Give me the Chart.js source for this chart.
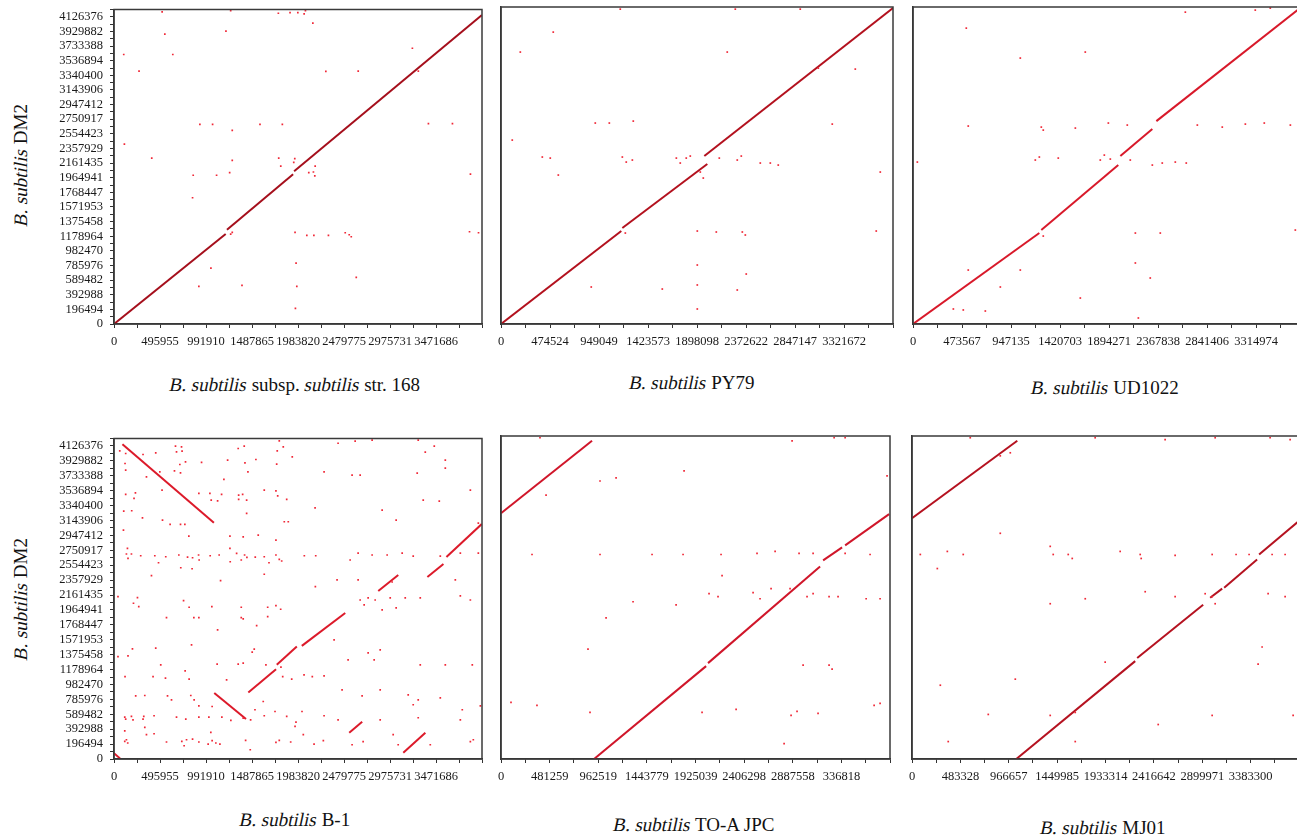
<!DOCTYPE html>
<html>
<head>
<meta charset="utf-8">
<script src="https://cdn.jsdelivr.net/npm/chart.js@4.4.1/dist/chart.umd.min.js"></script>
<style>
html, body { margin: 0; padding: 0; background: #fff; overflow: hidden; width: 1297px; height: 837px; }
body { position: relative; font-family: 'Liberation Serif', 'DejaVu Serif', serif; color: #111; }
canvas { position: absolute; }
.cap { position: absolute; font-size: 19px; white-space: nowrap; transform: translate(-50%, -50%); }
.ytitle { position: absolute; font-size: 19px; white-space: nowrap; transform: translate(-50%, -50%) rotate(-90deg); }
/* serif italic face is not installed, so slant the regular one */
.it { display: inline-block; font-style: normal; transform: skewX(-12deg); }
</style>
</head>
<body>
<div class="ytitle" style="left:21px;top:165px"><span class="it">B. subtilis</span> DM2</div>
<div class="ytitle" style="left:21px;top:599px"><span class="it">B. subtilis</span> DM2</div>
<div class="cap" style="left:295px;top:385px"><span class="it">B. subtilis</span> subsp. <span class="it">subtilis</span> str. 168</div>
<div class="cap" style="left:692px;top:383px"><span class="it">B. subtilis</span> PY79</div>
<div class="cap" style="left:1105px;top:388px"><span class="it">B. subtilis</span> UD1022</div>
<div class="cap" style="left:295px;top:820px"><span class="it">B. subtilis</span> B-1</div>
<div class="cap" style="left:694px;top:825px"><span class="it">B. subtilis</span> TO-A JPC</div>
<div class="cap" style="left:1103px;top:828px"><span class="it">B. subtilis</span> MJ01</div>
<script>
// tick labels (bp)
const yTickLabels = ['0','196494','392988','589482','785976','982470','1178964','1375458','1571953','1768447',
    '1964941','2161435','2357929','2554423','2750917','2947412','3143906','3340400','3536894','3733388','3929882','4126376'];
const p1XTicks = ['0','495955','991910','1487865','1983820','2479775','2975731','3471686'];
const p2XTicks = ['0','474524','949049','1423573','1898098','2372622','2847147','3321672'];
const p3XTicks = ['0','473567','947135','1420703','1894271','2367838','2841406','3314974'];
const p4XTicks = ['0','495955','991910','1487865','1983820','2479775','2975731','3471686'];
const p5XTicks = ['0','481259','962519','1443779','1925039','2406298','2887558','336818'];
const p6XTicks = ['0','483328','966657','1449985','1933314','2416642','2899971','3383300'];

// alignment segments [x1, y1, x2, y2] in kb
const p1Segments = [[0,0,1204,1208],[1218,1266,1931,2012],[1942,2052,3967,4150]];
const p2Segments = [[0,0,1165,1239],[1175,1279,1998,2132],[1969,2238,3796,4210]];
const p3Segments = [[0,0,1221,1212],[1240,1252,1984,2118],[2004,2238,2313,2598],[2352,2704,3745,4215]];
const p4Segments = [[0,75,65,8],[91,4150,1077,3114],[1081,869,1423,526],[1448,877,1747,1184],[1755,1241,1971,1482],
    [2025,1491,2493,1925],[2849,2215,3065,2426],[3379,2399,3552,2570],[3584,2662,3965,3097],[2536,346,2676,491],[3119,83,3357,346]];
const p5Segments = [[0,3215,901,4162],[921,0,2030,1215],[2049,1254,3158,2518],[3188,2597,3376,2768],[3406,2794,3841,3202]];
const p6Segments = [[0,3149,1052,4162],[1042,0,2230,1280],[2250,1320,2909,2017],[2979,2110,3099,2228],[3119,2241,3448,2610],[3468,2675,3868,3115]];

// scattered matches [x, y] in kb
const p1Dots = [[519,4192],[548,3894],[105,3620],[634,3620],[270,3397],[1207,3934],[1258,4210],[1772,4174],[1898,4183],[1982,4183],
    [2050,4166],[2064,4210],[2144,4041],[2284,3393],[926,2682],[1063,2682],[1275,2602],[1574,2682],[1815,2682],[112,2415],
    [407,2229],[1275,2198],[854,1998],[1106,1998],[1247,2034],[847,1696],[1776,2229],[1798,2122],[1949,2221],[1938,2171],
    [2100,2034],[2150,2042],[2165,1989],[2169,2122],[1952,1230],[2079,1190],[2155,1190],[2312,1190],[1258,1208],[1275,1230],
    [1963,817],[1045,750],[915,506],[1380,520],[1971,506],[1956,209],[2493,1226],[2536,1199],[2558,1172],[3833,1239],
    [3930,1226],[2612,626],[2633,3397],[3281,3397],[3390,2691],[3843,2012],[3217,3704],[3649,2691]];
const p2Dots = [[187,3624],[506,3890],[1155,4196],[2269,4196],[2898,4196],[2191,3624],[3073,3410],[3431,3397],[913,2678],[1049,2678],
    [1281,2704],[3208,2664],[400,2225],[477,2211],[555,1985],[1175,2225],[1213,2158],[1272,2185],[1698,2211],[1736,2145],
    [1794,2211],[1833,2238],[1930,2025],[1959,1945],[2114,2211],[2288,2185],[2327,2238],[2511,2145],[2608,2145],[2685,2118],
    [3673,2025],[1204,1212],[1901,1239],[2085,1226],[2337,1226],[2366,1186],[3634,1239],[1901,786],[1901,520],[2288,453],
    [874,493],[1562,466],[1901,200],[2375,666],[109,2451]];
const p3Dots = [[515,3943],[1037,3544],[1665,3624],[2632,4156],[3308,4183],[3453,4210],[534,2638],[1240,2624],[1259,2584],[1569,2611],
    [1888,2678],[2071,2651],[2748,2651],[2989,2624],[3212,2664],[3395,2678],[3647,2651],[42,2158],[1182,2185],[1221,2225],
    [1404,2211],[1810,2185],[1849,2251],[1907,2198],[2100,2185],[2313,2118],[2409,2145],[2535,2158],[2641,2145],[1259,1172],
    [2149,1212],[2390,1212],[3695,1252],[534,719],[844,493],[2149,813],[2293,613],[390,200],[486,187],[699,173],
    [1617,346],[2178,80],[1037,719]];
const p4Dots = [[62,4061],[126,4027],[119,3895],[313,4014],[450,4035],[663,4123],[728,4114],[734,4057],[674,4048],[710,3882],
    [771,3916],[944,3909],[1225,3939],[1339,4093],[1404,4123],[1412,3903],[1530,3948],[1782,4193],[1760,4061],[1825,4114],
    [1922,3982],[1754,3886],[126,3807],[350,3719],[494,3785],[652,3798],[717,3772],[1185,3685],[1444,3785],[2265,3785],
    [518,3544],[126,3487],[231,3508],[216,3435],[915,3501],[1034,3501],[1048,3412],[1160,3487],[1117,3403],[1344,3478],
    [1344,3422],[1387,3487],[1430,3412],[1620,3544],[1746,3535],[1765,3469],[1862,3422],[105,3268],[191,3272],[307,3179],
    [523,3149],[605,3093],[717,3093],[764,3093],[807,2939],[1430,3237],[1836,3127],[1879,3127],[2168,3311],[102,3018],
    [1250,2939],[1393,2929],[1555,2952],[1746,2886],[145,2777],[134,2702],[188,2702],[151,2645],[288,2679],[440,2679],
    [558,2666],[699,2689],[793,2662],[847,2653],[912,2689],[918,2623],[1037,2679],[1134,2689],[1250,2777],[1253,2600],
    [1322,2711],[1408,2689],[1433,2658],[1523,2662],[1620,2666],[1746,2689],[1782,2632],[1808,2610],[2052,2679],[2175,2679],
    [480,2587],[720,2521],[842,2508],[1372,2623],[1671,2587],[404,2416],[1620,2435],[1149,2350],[2171,2271],[43,2140],
    [253,2127],[210,2053],[267,2008],[750,2087],[810,2000],[1055,2008],[1372,2000],[1657,2000],[1746,2021],[1797,1974],
    [566,1863],[861,1863],[915,1863],[1372,1863],[1393,1846],[1538,1758],[1657,1877],[1117,1702],[199,1452],[450,1461],
    [836,1504],[1512,1448],[1490,1408],[43,1350],[151,1359],[504,1241],[767,1162],[1112,1250],[1339,1250],[1393,1263],
    [1638,1241],[1800,1211],[1819,1087],[1916,1053],[2049,1109],[2138,1087],[2265,1096],[119,1087],[421,1087],[555,1066],
    [810,1053],[1214,1044],[234,833],[332,837],[577,833],[620,780],[828,837],[864,780],[915,701],[1058,692],
    [1520,649],[1609,758],[1736,626],[2027,626],[116,553],[126,526],[188,561],[205,517],[321,561],[313,526],
    [432,570],[674,553],[774,526],[915,553],[1023,553],[1163,553],[1260,508],[1393,540],[1473,517],[1620,570],
    [1862,561],[1962,487],[2265,570],[116,372],[332,416],[350,320],[432,333],[1044,350],[1952,429],[2041,320],
    [116,232],[134,254],[148,211],[566,224],[731,232],[756,175],[782,254],[847,263],[915,224],[1015,197],
    [1058,241],[1098,211],[1142,197],[1419,245],[1469,122],[1746,218],[1782,245],[1905,224],[2157,197],[2257,241],
    [2416,4162],[2600,4189],[2783,4202],[3280,4202],[3453,4123],[3356,4044],[3572,3939],[3269,3768],[3572,3834],[2567,3741],
    [2654,3741],[3334,3412],[3507,3399],[3842,3544],[2891,3281],[3042,3149],[3928,3110],[2546,2623],[2632,2715],[2783,2689],
    [2945,2689],[3107,2715],[3226,2675],[3518,2675],[3734,2715],[3928,2715],[2405,2360],[2632,2360],[2999,2333],[3680,2360],
    [2654,2096],[2697,2031],[2740,2123],[2816,2096],[2891,1965],[2978,2123],[3042,1991],[3140,2123],[3302,2123],[3734,2149],
    [3842,2096],[2373,1570],[2524,1307],[2740,1399],[2805,1307],[2870,1438],[3302,1241],[3572,1241],[3863,1241],[2459,912],
    [2675,833],[2870,912],[3172,846],[3226,715],[3280,780],[3518,807],[3755,649],[3950,701],[2416,517],[2870,517],
    [3010,320],[3280,544],[3734,517],[3874,254],[2567,188],[2686,228],[3064,188],[3410,188],[3842,228]];
const p5Dots = [[386,4202],[980,3636],[1139,3676],[1812,3768],[2881,4162],[3297,4202],[3406,4202],[3821,3702],[446,3452],[307,2675],
    [980,2675],[1495,2675],[1802,2675],[2178,2675],[2534,2689],[2713,2715],[2950,2689],[3089,2689],[3406,2689],[3653,2675],
    [1733,2017],[2059,2162],[2148,2123],[2495,2175],[2564,2096],[2673,2228],[2861,2228],[3029,2123],[3089,2162],[3247,2123],
    [3336,2123],[3614,2096],[3752,2096],[2188,2399],[1040,1846],[1307,2057],[861,1438],[2990,1228],[3247,1228],[3277,1175],
    [99,741],[356,701],[881,609],[1990,609],[2327,649],[2871,570],[2930,623],[3138,596],[3693,701],[3752,728],[2802,201]];
const p6Dots = [[582,4202],[882,3965],[982,4005],[1830,4202],[2529,4176],[3029,4202],[3578,4202],[3778,4176],[83,2675],[353,2715],
    [512,2675],[882,2952],[1381,2781],[1411,2675],[1561,2675],[1601,2623],[2080,2715],[2280,2675],[2290,2623],[2629,2662],
    [2999,2675],[3238,2675],[3368,2675],[3598,2675],[3728,2675],[1381,2031],[1731,2096],[2330,2188],[2629,2123],[2929,2162],
    [2999,2123],[3029,2031],[3558,2162],[3728,2123],[253,2491],[3458,1241],[3498,1465],[283,965],[1930,1267],[762,583],
    [1381,570],[1631,609],[2460,451],[2999,570],[3808,570],[362,228],[1631,228],[1032,1044]];

const KB = 1000;
const AX_W = 110, AX_H = 40, PAD = 12;
const DOT = 'rgb(240,40,55)';
const tickFont = { family: "'Liberation Serif', 'DejaVu Serif', serif", size: 12.5 };

// plot rect: [left, right, top, bottom] in page px
const panels = [
    { plot: [114, 482, 7, 324], xLabels: p1XTicks, segs: p1Segments, dots: p1Dots, showY: true, line: '#a50f1c' },
    { plot: [501, 893, 7, 324], xLabels: p2XTicks, segs: p2Segments, dots: p2Dots, showY: false, line: '#b3111e' },
    { plot: [913, 1305, 7, 324], xLabels: p3XTicks, segs: p3Segments, dots: p3Dots, showY: false, line: '#d8192a' },
    { plot: [114, 482, 436, 759], xLabels: p4XTicks, segs: p4Segments, dots: p4Dots, showY: true, line: '#dc1a2a' },
    { plot: [501, 890, 436, 759], xLabels: p5XTicks, segs: p5Segments, dots: p5Dots, showY: false, line: '#d0162a' },
    { plot: [912, 1299, 436, 759], xLabels: p6XTicks, segs: p6Segments, dots: p6Dots, showY: false, line: '#b51220' }
];

const frame = {
    id: 'frame',
    afterDatasetsDraw(chart) {
        const a = chart.chartArea, ctx = chart.ctx;
        ctx.save();
        ctx.strokeStyle = '#3a3a3a';
        ctx.lineWidth = 1.5;
        ctx.strokeRect(a.left, a.top, a.right - a.left, a.bottom - a.top);
        ctx.restore();
    }
};

function makePanel(p) {
    const [l, r, t, b] = p.plot;
    const cv = document.createElement('canvas');
    cv.width = (r - l) + AX_W + PAD;
    cv.height = (b - t) + PAD + AX_H;
    cv.style.left = (l - AX_W) + 'px';
    cv.style.top = (t - PAD) + 'px';
    document.body.appendChild(cv);

    const xStep = Number(p.xLabels[1]);
    const yStep = Number(yTickLabels[1]);
    const datasets = [{
        data: p.dots.map(d => ({ x: d[0] * KB, y: d[1] * KB })),
        pointStyle: 'rect', pointRadius: 1.2, backgroundColor: DOT, borderWidth: 0
    }];
    p.segs.forEach(s => datasets.push({
        data: [{ x: s[0] * KB, y: s[1] * KB }, { x: s[2] * KB, y: s[3] * KB }],
        showLine: true, pointRadius: 0, borderColor: p.line, borderWidth: 2
    }));

    new Chart(cv, {
        type: 'scatter',
        data: { datasets },
        options: {
            responsive: false,
            animation: false,
            events: [],
            layout: { padding: { top: PAD, right: PAD, left: 0, bottom: 0 } },
            plugins: { legend: { display: false }, tooltip: { enabled: false } },
            scales: {
                x: {
                    type: 'linear', min: 0, max: 8 * xStep,
                    afterFit: s => { s.height = AX_H; },
                    afterBuildTicks: s => {
                        s.ticks = [];
                        for (let i = 0; i <= 16; i++) s.ticks.push({ value: i * xStep / 2 });
                    },
                    ticks: {
                        autoSkip: false, maxRotation: 0, padding: 6, color: '#1a1a1a', font: tickFont,
                        callback: (v, i) => (i % 2 === 0 && p.xLabels[i / 2] !== undefined) ? p.xLabels[i / 2] : ''
                    },
                    grid: { drawOnChartArea: false, tickLength: 4, color: '#333' },
                    border: { color: '#333', width: 1.5 }
                },
                y: {
                    type: 'linear', min: 0, max: 21.5 * yStep,
                    afterFit: s => { s.width = AX_W; },
                    afterBuildTicks: s => {
                        s.ticks = [];
                        for (let i = 0; i <= 43; i++) s.ticks.push({ value: i * yStep / 2 });
                    },
                    ticks: {
                        display: p.showY, autoSkip: false, padding: 7, color: '#1a1a1a', font: tickFont,
                        callback: (v, i) => (i % 2 === 0 && yTickLabels[i / 2] !== undefined) ? yTickLabels[i / 2] : ''
                    },
                    grid: { drawOnChartArea: false, drawTicks: p.showY, tickLength: 4, color: '#333' },
                    border: { color: '#333', width: 1.5 }
                }
            }
        },
        plugins: [frame]
    });
}

panels.forEach(makePanel);
</script>
</body>
</html>
